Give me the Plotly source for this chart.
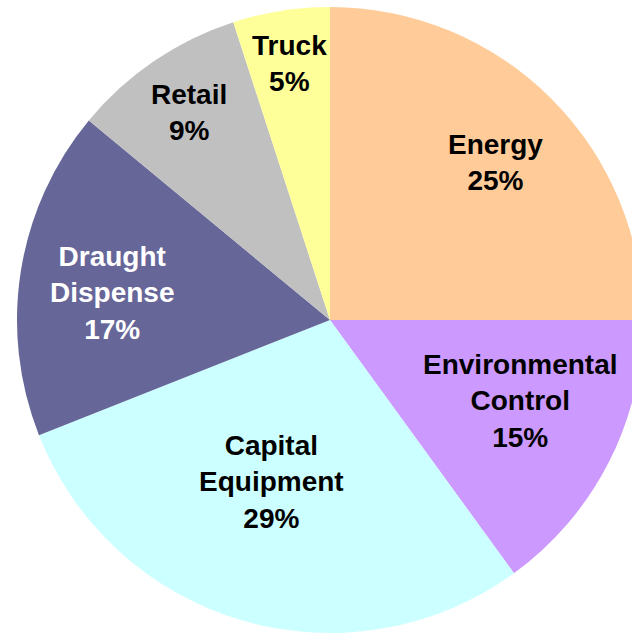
import math
import plotly.graph_objects as go

# ---- data ----
categories = ["Energy", "Environmental<br>Control", "Capital<br>Equipment",
              "Draught<br>Dispense", "Retail", "Truck"]
shares = [25, 15, 29, 17, 9, 5]

# ---- styles ----
colors = ["#FFCC99", "#CC99FF", "#CCFFFF", "#666699", "#C0C0C0", "#FFFF99"]
text_colors = ["black", "black", "black", "white", "black", "black"]
label_radius = [0.73, 0.66, 0.55, 0.70, 0.80, 0.83]   # fraction of pie radius
label_turn = [1.5, -4.0, 3.5, -2.0, 0.0, 0.0]          # degrees nudged

W, H = 660, 633
R = 313.0
CX, CY = 330.0, 320.0   # pixels from left / top

dom_x = [(CX - R) / W, (CX + R) / W]
dom_y = [(H - CY - R) / H, (H - CY + R) / H]

fig = go.Figure(go.Pie(
    labels=categories,
    values=shares,
    sort=False,
    direction="clockwise",
    rotation=0,
    marker=dict(colors=colors, line=dict(width=0)),
    textinfo="none",
    hoverinfo="label+percent",
    showlegend=False,
    domain=dict(x=dom_x, y=dom_y),
))

total = sum(shares)
cum = 0
annotations = []
for lab, v, tc, f, turn in zip(categories, shares, text_colors, label_radius, label_turn):
    mid = (cum + v / 2) / total * 360 + turn
    cum += v
    px = CX + R * f * math.sin(math.radians(mid))
    py = CY - R * f * math.cos(math.radians(mid))
    pct = round(v / total * 100)
    annotations.append(dict(
        x=px / W, y=1 - py / H, xref="paper", yref="paper",
        text=f"<b>{lab}<br>{pct}%</b>", showarrow=False,
        xanchor="center", yanchor="middle", align="center",
        font=dict(family="Liberation Sans, Arial, sans-serif", size=28, color=tc),
    ))

fig.update_layout(
    width=W, height=H,
    margin=dict(l=0, r=0, t=0, b=0),
    paper_bgcolor="white", plot_bgcolor="white",
    annotations=annotations,
)

fig.write_html("out.html", post_script=(
    "document.body.style.margin='0';"
    "document.body.style.overflow='hidden';"
    "document.documentElement.style.overflow='hidden';"
))
